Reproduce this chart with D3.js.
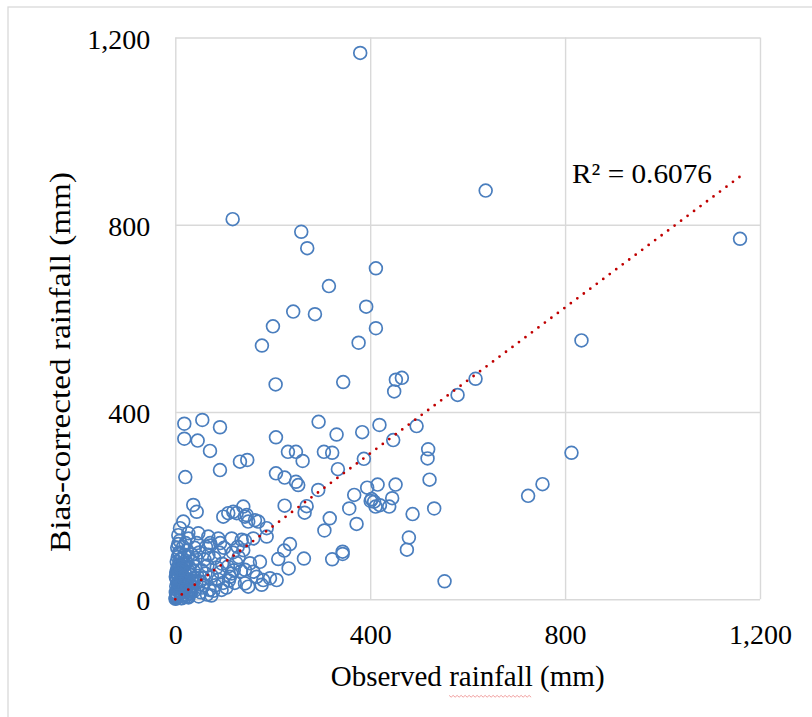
<!DOCTYPE html>
<html>
<head>
<meta charset="utf-8">
<script src="https://cdn.jsdelivr.net/npm/d3@7/dist/d3.min.js"></script>
<style>
  html, body { margin: 0; padding: 0; background: #fff; }
  svg { display: block; }
  text { font-family: "Liberation Serif", "Times New Roman", serif; fill: #000; }
</style>
</head>
<body>
<svg id="chart" width="812" height="717"></svg>
<script>
// ---------- data ----------
const xTicks = [0, 400, 800, 1200];
const yTicks = [0, 400, 800, 1200];
const xTitle = "Observed rainfall (mm)";
const yTitle = "Bias-corrected rainfall (mm)";
const r2Label = "R² = 0.6076";

// observed rainfall (mm)
const observed = [
  379.5, 637, 117.7, 258.5, 270.8, 411.7, 315.3, 391.8, 242, 286.6, 200.4, 411.7, 177.8, 376.2,
  205.9, 344.6, 449.2, 452.7, 465, 1159, 833.6, 579.3, 616.2, 813.1, 495.2, 447.2, 419, 519,
  517.7, 521.8, 452.1, 445.1, 439, 531.3, 487, 724.1, 753.6, 479.4, 475.3, 552.6,
  18.5, 55.4, 91.7, 18.5, 45.9, 71.2, 206.6, 294.1, 331, 383.6, 231.2, 247.6, 261.3, 305, 322,
  387, 333.7, 132.7, 147.7, 91.7, 20.5, 206.6, 224.4, 247.6, 252.3, 293.3, 269.5, 265.4, 224.4,
  367.2, 357, 372, 317, 306, 393.8, 415.2, 403, 408, 401, 411, 420,
  343.4, 343.4, 235.3, 223.6, 211.3, 264, 322, 232.6, 173.7, 139.5, 146.5, 163.5, 170.3, 187.5,
  187.5, 160, 143, 139.5, 153.2, 143, 160, 167, 143, 180.5, 194.3, 208, 177.2, 149.7,
  36.9, 43.9, 16.4, 9.6, 26.7, 6.2, 47.2, 67.7, 98.5, 108.7, 119, 126, 143, 149.7, 88.2, 115.7, 136.2,
  71.6, 92,
  1, 2, 3, 1, 4, 2, 5, 3, 6, 2, 4, 7, 3, 5, 8, 4, 6, 9,
  12, 14, 11, 16, 13, 18, 15, 20, 12, 17, 22, 14, 19, 24, 16, 21, 11, 23, 20, 25,
  27, 30, 28, 33, 35, 31, 38, 29, 36, 42, 34, 40, 44, 27, 39, 43, 45, 41,
  48, 52, 55, 50, 58, 62, 54, 66, 60, 68, 49, 63, 57, 70, 65,
  74, 78, 82, 88, 75, 92, 85, 96, 80, 90, 100, 72, 95, 98,
  105, 110, 115, 120, 108, 125, 130, 118, 128, 112, 135, 122,
  0.5, 1.5, 2.5, 3.5, 5, 6.5, 8, 9.5, 1, 3, 5, 7, 9, 10, 13, 15, 17, 19, 21, 23,
  26, 29, 32, 34, 37, 40, 6, 10, 14, 18, 22, 26, 30, 8, 12, 16, 2, 4, 24, 33
];
// bias-corrected rainfall (mm)
const corrected = [
  1167, 873, 812, 785, 750, 707, 669, 625, 614.5, 609, 583, 579, 542, 548,
  459, 464, 444, 469, 473, 770, 553, 436.5, 471, 313, 370, 340, 372.4, 320.5,
  301, 255.6, 245, 216, 198, 194, 182, 221, 246, 132, 106, 38.5,
  375, 383, 367.5, 343, 339, 317, 346, 379, 352, 357, 315, 315, 295.5, 315, 313,
  300, 278, 294, 297.6, 276, 261, 269, 260, 251, 244, 233.5, 199, 185, 200,
  223, 194, 161, 173, 147, 238.5, 245, 214, 208.5, 210, 198, 201,
  101.7, 96.8, 118, 104, 86, 87, 85.5, 66, 80, 198, 180, 169, 166, 152,
  134, 130, 125, 105, 77, 63, 59, 48, 34, 41, 45, 41, 31, 27,
  201.5, 187, 166, 152, 141, 137, 141, 134, 176.5, 184, 187, 184, 176.5, 166, 130, 130, 127,
  120, 120,
  2, 5, 10, 15, 20, 28, 35, 42, 50, 58, 65, 72, 80, 90, 100, 110, 118, 125,
  3, 8, 14, 22, 30, 38, 46, 55, 62, 70, 78, 88, 95, 105, 112, 120, 45, 15, 5, 30,
  4, 12, 20, 27, 40, 52, 60, 68, 80, 88, 95, 110, 120, 130, 18, 35, 50, 70,
  6, 15, 25, 38, 45, 55, 62, 72, 85, 95, 100, 112, 30, 20, 10,
  8, 18, 30, 42, 50, 58, 68, 76, 88, 100, 110, 115, 20, 35,
  25, 40, 55, 62, 70, 78, 90, 100, 112, 48, 60, 35,
  1, 4, 7, 12, 18, 24, 33, 40, 48, 55, 62, 68, 75, 85, 2, 9, 16, 26, 36, 44,
  6, 12, 20, 29, 37, 46, 54, 60, 67, 74, 82, 92, 58, 96, 64, 47, 3, 8, 10, 16
];
// linear trendline end points
const trendX = [0, 1159];
const trendY = [0, 903];

// ---------- drawing ----------
const svg = d3.select("#chart");
const W = 812, H = 717;
const plotL = 175.3, plotR = 760, plotT = 37.5, plotB = 599.3;

// chart area frame (only left/top visible in the reference)
svg.append("rect")
  .attr("x", 8).attr("y", 7).attr("width", W + 20).attr("height", H + 20)
  .attr("fill", "#fff").attr("stroke", "#d9d9d9").attr("stroke-width", 1.3);

const x = d3.scaleLinear().domain([0, 1200]).range([plotL, plotR]);
const y = d3.scaleLinear().domain([0, 1200]).range([plotB, plotT]);

const gridColor = "#d9d9d9";

const xAxis = svg.append("g")
  .attr("transform", `translate(0,${plotB})`)
  .call(d3.axisBottom(x).tickValues(xTicks).tickFormat(d3.format(","))
    .tickSize(-(plotB - plotT)).tickPadding(25));
const yAxis = svg.append("g")
  .attr("transform", `translate(${plotL},0)`)
  .call(d3.axisLeft(y).tickValues(yTicks).tickFormat(d3.format(","))
    .tickSize(-(plotR - plotL)).tickPadding(25));

[xAxis, yAxis].forEach(g => {
  g.select(".domain").remove();
  g.selectAll(".tick line").attr("stroke", gridColor).attr("stroke-width", 1.4);
  g.selectAll(".tick text")
    .style("font-family", "'Liberation Serif', 'Times New Roman', serif")
    .style("font-size", "28px").attr("fill", "#000");
});
yAxis.selectAll(".tick text").attr("dy", "0.38em");

// points
const pts = observed.map((v, i) => [v, corrected[i]]);
svg.append("g").selectAll("circle")
  .data(pts).join("circle")
  .attr("cx", d => x(d[0])).attr("cy", d => y(d[1]))
  .attr("r", 6.4)
  .attr("fill", "none")
  .attr("stroke", "#4a7ebe")
  .attr("stroke-width", 1.7);

// trendline
svg.append("path")
  .datum(trendX.map((v, i) => [v, trendY[i]]))
  .attr("d", d3.line().x(d => x(d[0])).y(d => y(d[1])))
  .attr("fill", "none")
  .attr("stroke", "#c00000")
  .attr("stroke-width", 2.8)
  .attr("stroke-linecap", "round")
  .attr("stroke-dasharray", "0 8.1");

// R² label
svg.append("text")
  .attr("x", 572).attr("y", 183)
  .attr("textLength", 140).attr("lengthAdjust", "spacingAndGlyphs")
  .style("font-size", "28px")
  .text(r2Label);

// axis titles
const xt = svg.append("text")
  .attr("x", (plotL + plotR) / 2).attr("y", 686)
  .attr("text-anchor", "middle")
  .style("font-size", "29px");
xt.append("tspan").text("Observed ");
xt.append("tspan").text("rainfall");
xt.append("tspan").text(" (mm)");

// spell-check squiggle under "rainfall"
try {
  const node = xt.node();
  const start = node.getStartPositionOfChar(9).x;
  const end = node.getEndPositionOfChar(16).x;
  const yy = 696;
  const wave = [];
  for (let px = start, k = 0; px <= end; px += 2, k++) wave.push([px, yy + (k % 2 ? 1.2 : -0.6)]);
  svg.append("path").attr("d", d3.line()(wave))
    .attr("fill", "none").attr("stroke", "#f2a0a0").attr("stroke-width", 1);
} catch (e) {}

svg.append("text")
  .attr("transform", "translate(70,362) rotate(-90)")
  .attr("text-anchor", "middle")
  .attr("textLength", 380).attr("lengthAdjust", "spacingAndGlyphs")
  .style("font-size", "29px")
  .text(yTitle);
</script>
</body>
</html>
